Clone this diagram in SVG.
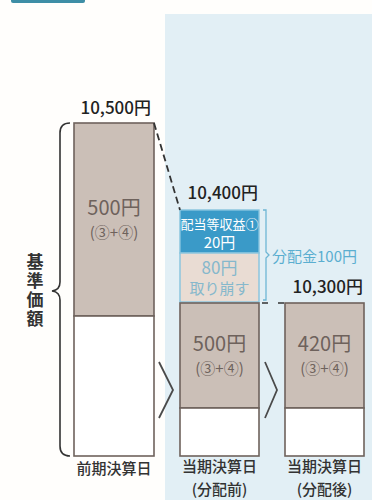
<svg xmlns="http://www.w3.org/2000/svg" width="372" height="500" viewBox="0 0 372 500">
<style>
.t{font-family:"Noto Sans CJK JP","Noto Sans",sans-serif;}
.lbl{font-size:15px;fill:#333;font-weight:500;}
.val{font-size:17px;fill:#222;font-weight:500;}
.in{font-size:20px;fill:#6e625c;text-anchor:middle;}
.in2{font-size:15px;fill:#6e625c;text-anchor:middle;}
.bar{fill:#cbbfb7;stroke:#6e625c;stroke-width:1.6;}
.wb{fill:#fff;stroke:#6e625c;stroke-width:1.6;}
.tri{fill:none;stroke:#4a4a4a;stroke-width:1.8;stroke-linejoin:miter;}
</style>
<rect x="0" y="0" width="372" height="500" fill="#fffefc"/>
<path d="M11 0 H85 V1 Q85 3 83 3 H13 Q11 3 11 1 Z" fill="#3e8ea6"/>
<rect x="165" y="14" width="207" height="486" fill="#e2eff5"/>

<g id="bar-prev">
<rect class="bar" x="74" y="123" width="80" height="193"/>
<rect class="wb" x="74" y="316" width="80" height="140"/>
<text class="t in" x="114" y="215">500円</text>
<text class="t in2" x="114" y="238">(③+④)</text>
<text class="t val" x="151" y="114" text-anchor="end">10,500円</text>
<text class="t lbl" x="114" y="474" text-anchor="middle" font-size="16">前期決算日</text>
</g>

<g id="brace">
<path d="M70 123 Q60 123 60 133 V282 Q60 290 52 291 Q60 292 60 300 V446 Q60 456 70 456" fill="none" stroke="#333" stroke-width="1.6"/>
<text class="t" x="35" y="253" font-size="17" font-weight="700" fill="#333" writing-mode="vertical-rl" letter-spacing="2">基準価額</text>
</g>

<g id="bar-before">
<rect x="180" y="210" width="79" height="43" fill="#3a9ac8" stroke="#86c4de" stroke-width="1.4"/>
<rect x="180" y="253" width="79" height="49" fill="#e9dcd3" stroke="#86c4de" stroke-width="1.4"/>
<rect class="bar" x="180" y="303" width="79" height="105"/>
<rect class="wb" x="180" y="408" width="79" height="48"/>
<text class="t" x="219.5" y="229" font-size="13" fill="#fff" text-anchor="middle">配当等収益①</text>
<text class="t" x="219.5" y="248" font-size="15" fill="#fff" text-anchor="middle">20円</text>
<text class="t" x="219.5" y="274" font-size="17" fill="#86b8cc" text-anchor="middle">80円</text>
<text class="t" x="219.5" y="294" font-size="15" fill="#86b8cc" text-anchor="middle">取り崩す</text>
<text class="t in" x="219.5" y="351">500円</text>
<text class="t in2" x="219.5" y="374">(③+④)</text>
<text class="t val" x="258" y="199" text-anchor="end">10,400円</text>
<text class="t lbl" x="219.5" y="472" text-anchor="middle">当期決算日</text>
<text class="t lbl" x="219.5" y="495" text-anchor="middle">(分配前)</text>
</g>

<g id="dist-label">
<path d="M263 210 H266 V252 L269 255 L266 258 V300 H263" fill="none" stroke="#6fb6d4" stroke-width="1.3"/>
<text class="t" x="272" y="262" font-size="15" fill="#5aaed0">分配金100円</text>
</g>

<g id="bar-after">
<rect class="bar" x="285" y="303" width="79" height="105"/>
<rect class="wb" x="285" y="408" width="79" height="48"/>
<text class="t in" x="324.5" y="351">420円</text>
<text class="t in2" x="324.5" y="374">(③+④)</text>
<text class="t val" x="363" y="293" text-anchor="end">10,300円</text>
<text class="t lbl" x="324.5" y="472" text-anchor="middle">当期決算日</text>
<text class="t lbl" x="324.5" y="495" text-anchor="middle">(分配後)</text>
</g>

<g id="connectors">
<line x1="154" y1="123" x2="180" y2="210" stroke="#333" stroke-width="1.8" stroke-dasharray="7 4"/>
<line x1="262" y1="303" x2="285" y2="303" stroke="#333" stroke-width="1.6" stroke-dasharray="6 10"/>
<path class="tri" d="M159 362 L173 390 L159 418"/>
<path class="tri" d="M265 362 L277 390 L265 418"/>
</g>
</svg>
